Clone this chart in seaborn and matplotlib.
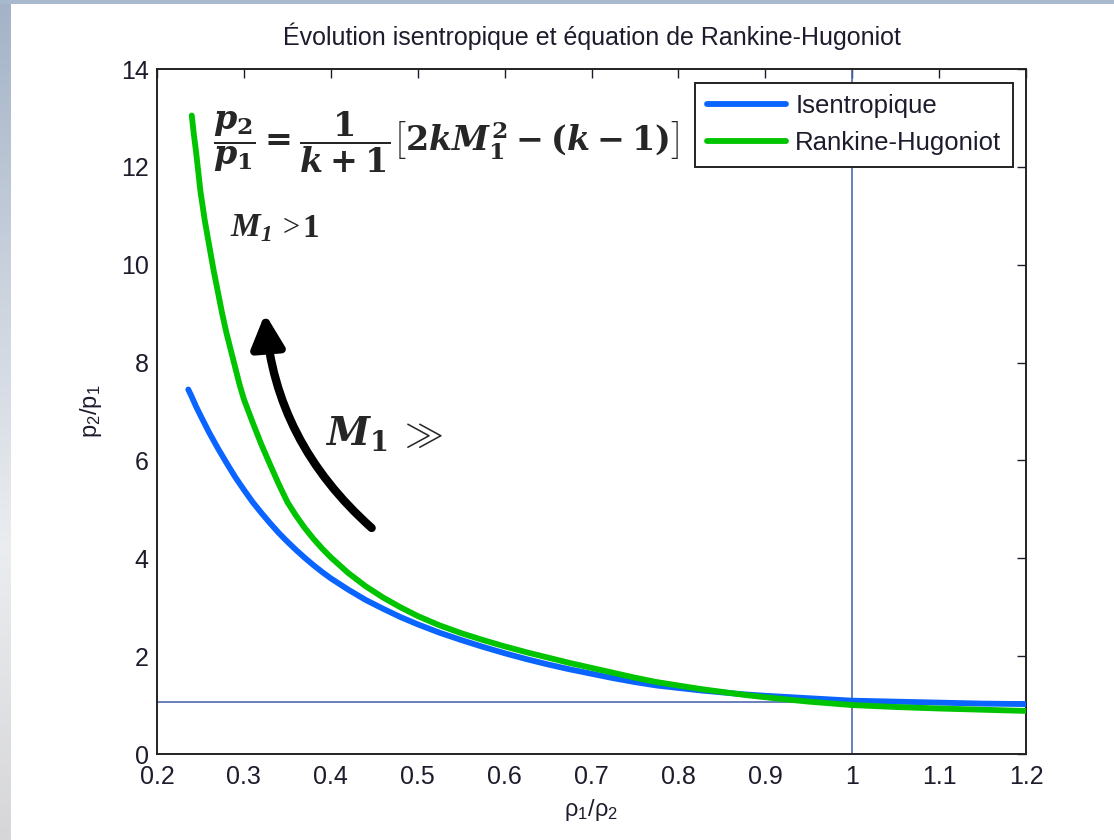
import numpy as np
import pandas as pd
import matplotlib
matplotlib.use("Agg")
import matplotlib.pyplot as plt
from matplotlib.patches import FancyArrowPatch
import seaborn as sns

# Isentropic compression curve: density ratio rho1/rho2 vs pressure ratio p2/p1
iso_x = [0.236, 0.24, 0.245, 0.25, 0.26, 0.27, 0.28, 0.29, 0.30, 0.31, 0.32,
         0.33, 0.34, 0.35, 0.36, 0.37, 0.38, 0.39, 0.40, 0.42, 0.44, 0.46,
         0.48, 0.50, 0.525, 0.55, 0.575, 0.60, 0.625, 0.65, 0.675, 0.70,
         0.725, 0.75, 0.775, 0.80, 0.825, 0.85, 0.875, 0.90, 0.95, 1.00,
         1.05, 1.10, 1.15, 1.20]
iso_y = [7.45, 7.30, 7.10, 6.92, 6.57, 6.25, 5.95, 5.66, 5.40, 5.15, 4.93,
         4.72, 4.52, 4.34, 4.17, 4.01, 3.86, 3.72, 3.59, 3.36, 3.15, 2.97,
         2.80, 2.65, 2.48, 2.33, 2.19, 2.06, 1.94, 1.83, 1.73, 1.64,
         1.55, 1.47, 1.40, 1.35, 1.30, 1.26, 1.22, 1.19, 1.14, 1.09,
         1.07, 1.05, 1.03, 1.02]

# Rankine-Hugoniot shock curve
rh_x = [0.240, 0.2425, 0.245, 0.2475, 0.25, 0.255, 0.26, 0.265, 0.27, 0.275,
        0.28, 0.285, 0.29, 0.295, 0.30, 0.31, 0.32, 0.33, 0.34, 0.35, 0.36,
        0.37, 0.38, 0.39, 0.40, 0.42, 0.44, 0.46, 0.48, 0.50, 0.525, 0.55,
        0.575, 0.60, 0.625, 0.65, 0.675, 0.70, 0.725, 0.75, 0.775, 0.80,
        0.825, 0.85, 0.875, 0.90, 0.95, 1.00, 1.05, 1.10, 1.15, 1.20]
rh_y = [13.05, 12.65, 12.30, 11.90, 11.50, 10.90, 10.40, 9.90, 9.45, 9.00,
        8.60, 8.25, 7.90, 7.55, 7.25, 6.78, 6.33, 5.92, 5.52, 5.15, 4.87,
        4.62, 4.40, 4.20, 4.02, 3.70, 3.43, 3.20, 3.00, 2.82, 2.63, 2.47,
        2.33, 2.20, 2.08, 1.97, 1.86, 1.76, 1.66, 1.56, 1.47, 1.40,
        1.33, 1.27, 1.21, 1.16, 1.07, 1.00, 0.96, 0.93, 0.905, 0.88]

series_names = ["Isentropique", "Rankine-Hugoniot"]
series_colors = ["#0a64ff", "#00c400"]

x_ticks = [0.2, 0.3, 0.4, 0.5, 0.6, 0.7, 0.8, 0.9, 1.0, 1.1, 1.2]
x_tick_labels = ["0.2", "0.3", "0.4", "0.5", "0.6", "0.7", "0.8", "0.9", "1", "1.1", "1.2"]
y_ticks = [0, 2, 4, 6, 8, 10, 12, 14]

ref_h = 1.07   # horizontal reference line
ref_v = 1.0    # vertical reference line

title = "Évolution isentropique et équation de Rankine-Hugoniot"

sns.set_theme(style="white")
plt.rcParams["font.family"] = ["Liberation Sans", "DejaVu Sans"]
plt.rcParams["mathtext.fontset"] = "custom"
plt.rcParams["mathtext.rm"] = "DejaVu Serif:bold"
plt.rcParams["mathtext.bf"] = "DejaVu Serif:bold"
plt.rcParams["mathtext.it"] = "DejaVu Serif:bold:italic"

df = pd.concat([
    pd.DataFrame({"x": iso_x, "y": iso_y, "courbe": series_names[0]}),
    pd.DataFrame({"x": rh_x, "y": rh_y, "courbe": series_names[1]}),
], ignore_index=True)

fig = plt.figure(figsize=(11.14, 8.4), dpi=100, facecolor="white")

# slide border strips
strip_left = fig.add_axes([0, 0, 11 / 1114, 1])
grad = np.linspace(0, 1, 256)
cols = np.array([[0.64, 0.70, 0.78], [0.80, 0.83, 0.87], [0.92, 0.93, 0.94], [0.84, 0.84, 0.85]])
stops = np.array([0.0, 0.35, 0.65, 1.0])
img = np.stack([np.interp(grad, stops, cols[:, c]) for c in range(3)], axis=1)[:, None, :]
strip_left.imshow(img, aspect="auto", extent=[0, 1, 0, 1], origin="upper")
strip_left.set_axis_off()
strip_top = fig.add_axes([0, 1 - 4 / 840, 1, 4 / 840])
strip_top.set_facecolor("#a9b9cd")
strip_top.set_xticks([]); strip_top.set_yticks([])
for s in strip_top.spines.values():
    s.set_visible(False)

ax = fig.add_axes([157 / 1114, 86 / 840, 869 / 1114, 685 / 840])
ax.set_facecolor("white")

ax.axhline(ref_h, color="#4f68b0", lw=1.2, zorder=1)
ax.axvline(ref_v, color="#4f68b0", lw=1.2, zorder=1)

sns.lineplot(data=df, x="x", y="y", hue="courbe", palette=series_colors,
             hue_order=series_names, sort=False, estimator=None, lw=4.2,
             ax=ax, zorder=3)

ax.set_xlim(0.2, 1.2)
ax.set_ylim(0, 14)
ax.set_xticks(x_ticks)
ax.set_xticklabels(x_tick_labels)
ax.set_yticks(y_ticks)
ax.tick_params(direction="in", length=6.5, width=1.0, top=True, right=True,
               labelsize=18, colors="#1c1c2c")
ax.tick_params(axis="x", pad=8)
ax.tick_params(axis="y", pad=6)
for s in ax.spines.values():
    s.set_color("#222222")
    s.set_linewidth(1.4)

ax.set_title(title, fontsize=18, color="#1c1c2c", pad=17)
ax.set_xlabel(r"$\mathregular{\rho_1/\rho_2}$", fontsize=17, color="#1c1c2c", labelpad=6)
ax.set_ylabel(r"$\mathregular{p_2/p_1}$", fontsize=17, color="#1c1c2c", labelpad=12)

leg = ax.legend(loc="upper right", bbox_to_anchor=(0.985, 0.98), borderaxespad=0,
                fontsize=18.5, frameon=True, fancybox=False, framealpha=1,
                edgecolor="#222222", handlelength=3.1, handletextpad=0.35,
                labelspacing=0.5, borderpad=0.45, title=None)
leg.get_frame().set_linewidth(1.4)
for t in leg.get_texts():
    t.set_color("#1c1c2c")

# annotations: shock pressure-jump relation and Mach-number notes
ax.text(0.2644, 12.5,
        r"$\dfrac{p_2}{p_1} = \dfrac{1}{k+1}\left[2kM_1^2 - (k-1)\right]$",
        fontsize=24, ha="left", va="center", zorder=5)
ax.text(0.284, 10.75, r"M$_\mathregular{1}$", fontsize=24, family="Liberation Serif",
        weight="bold", style="italic", ha="left", va="center", zorder=5)
ax.annotate(">", xy=(0.284, 10.75), xytext=(38, 0), textcoords="offset points",
            fontsize=22, family="Liberation Serif", ha="left", va="center", zorder=5)
ax.annotate("1", xy=(0.284, 10.75), xytext=(52, 0), textcoords="offset points",
            fontsize=24, family="Liberation Serif", weight="bold", ha="left",
            va="center", zorder=5)
ax.text(0.3933, 6.56, r"$M_1\,\gg$", fontsize=28, ha="left", va="center", zorder=5)

arrow = FancyArrowPatch((0.447, 4.62), (0.3243, 9.0),
                        connectionstyle="arc3,rad=-0.2",
                        arrowstyle="-|>,head_length=1.1,head_width=0.55",
                        mutation_scale=18, lw=6, color="black", zorder=4,
                        shrinkA=0, shrinkB=0)
ax.add_patch(arrow)

fig.savefig("out.png", dpi=100, facecolor="white")
